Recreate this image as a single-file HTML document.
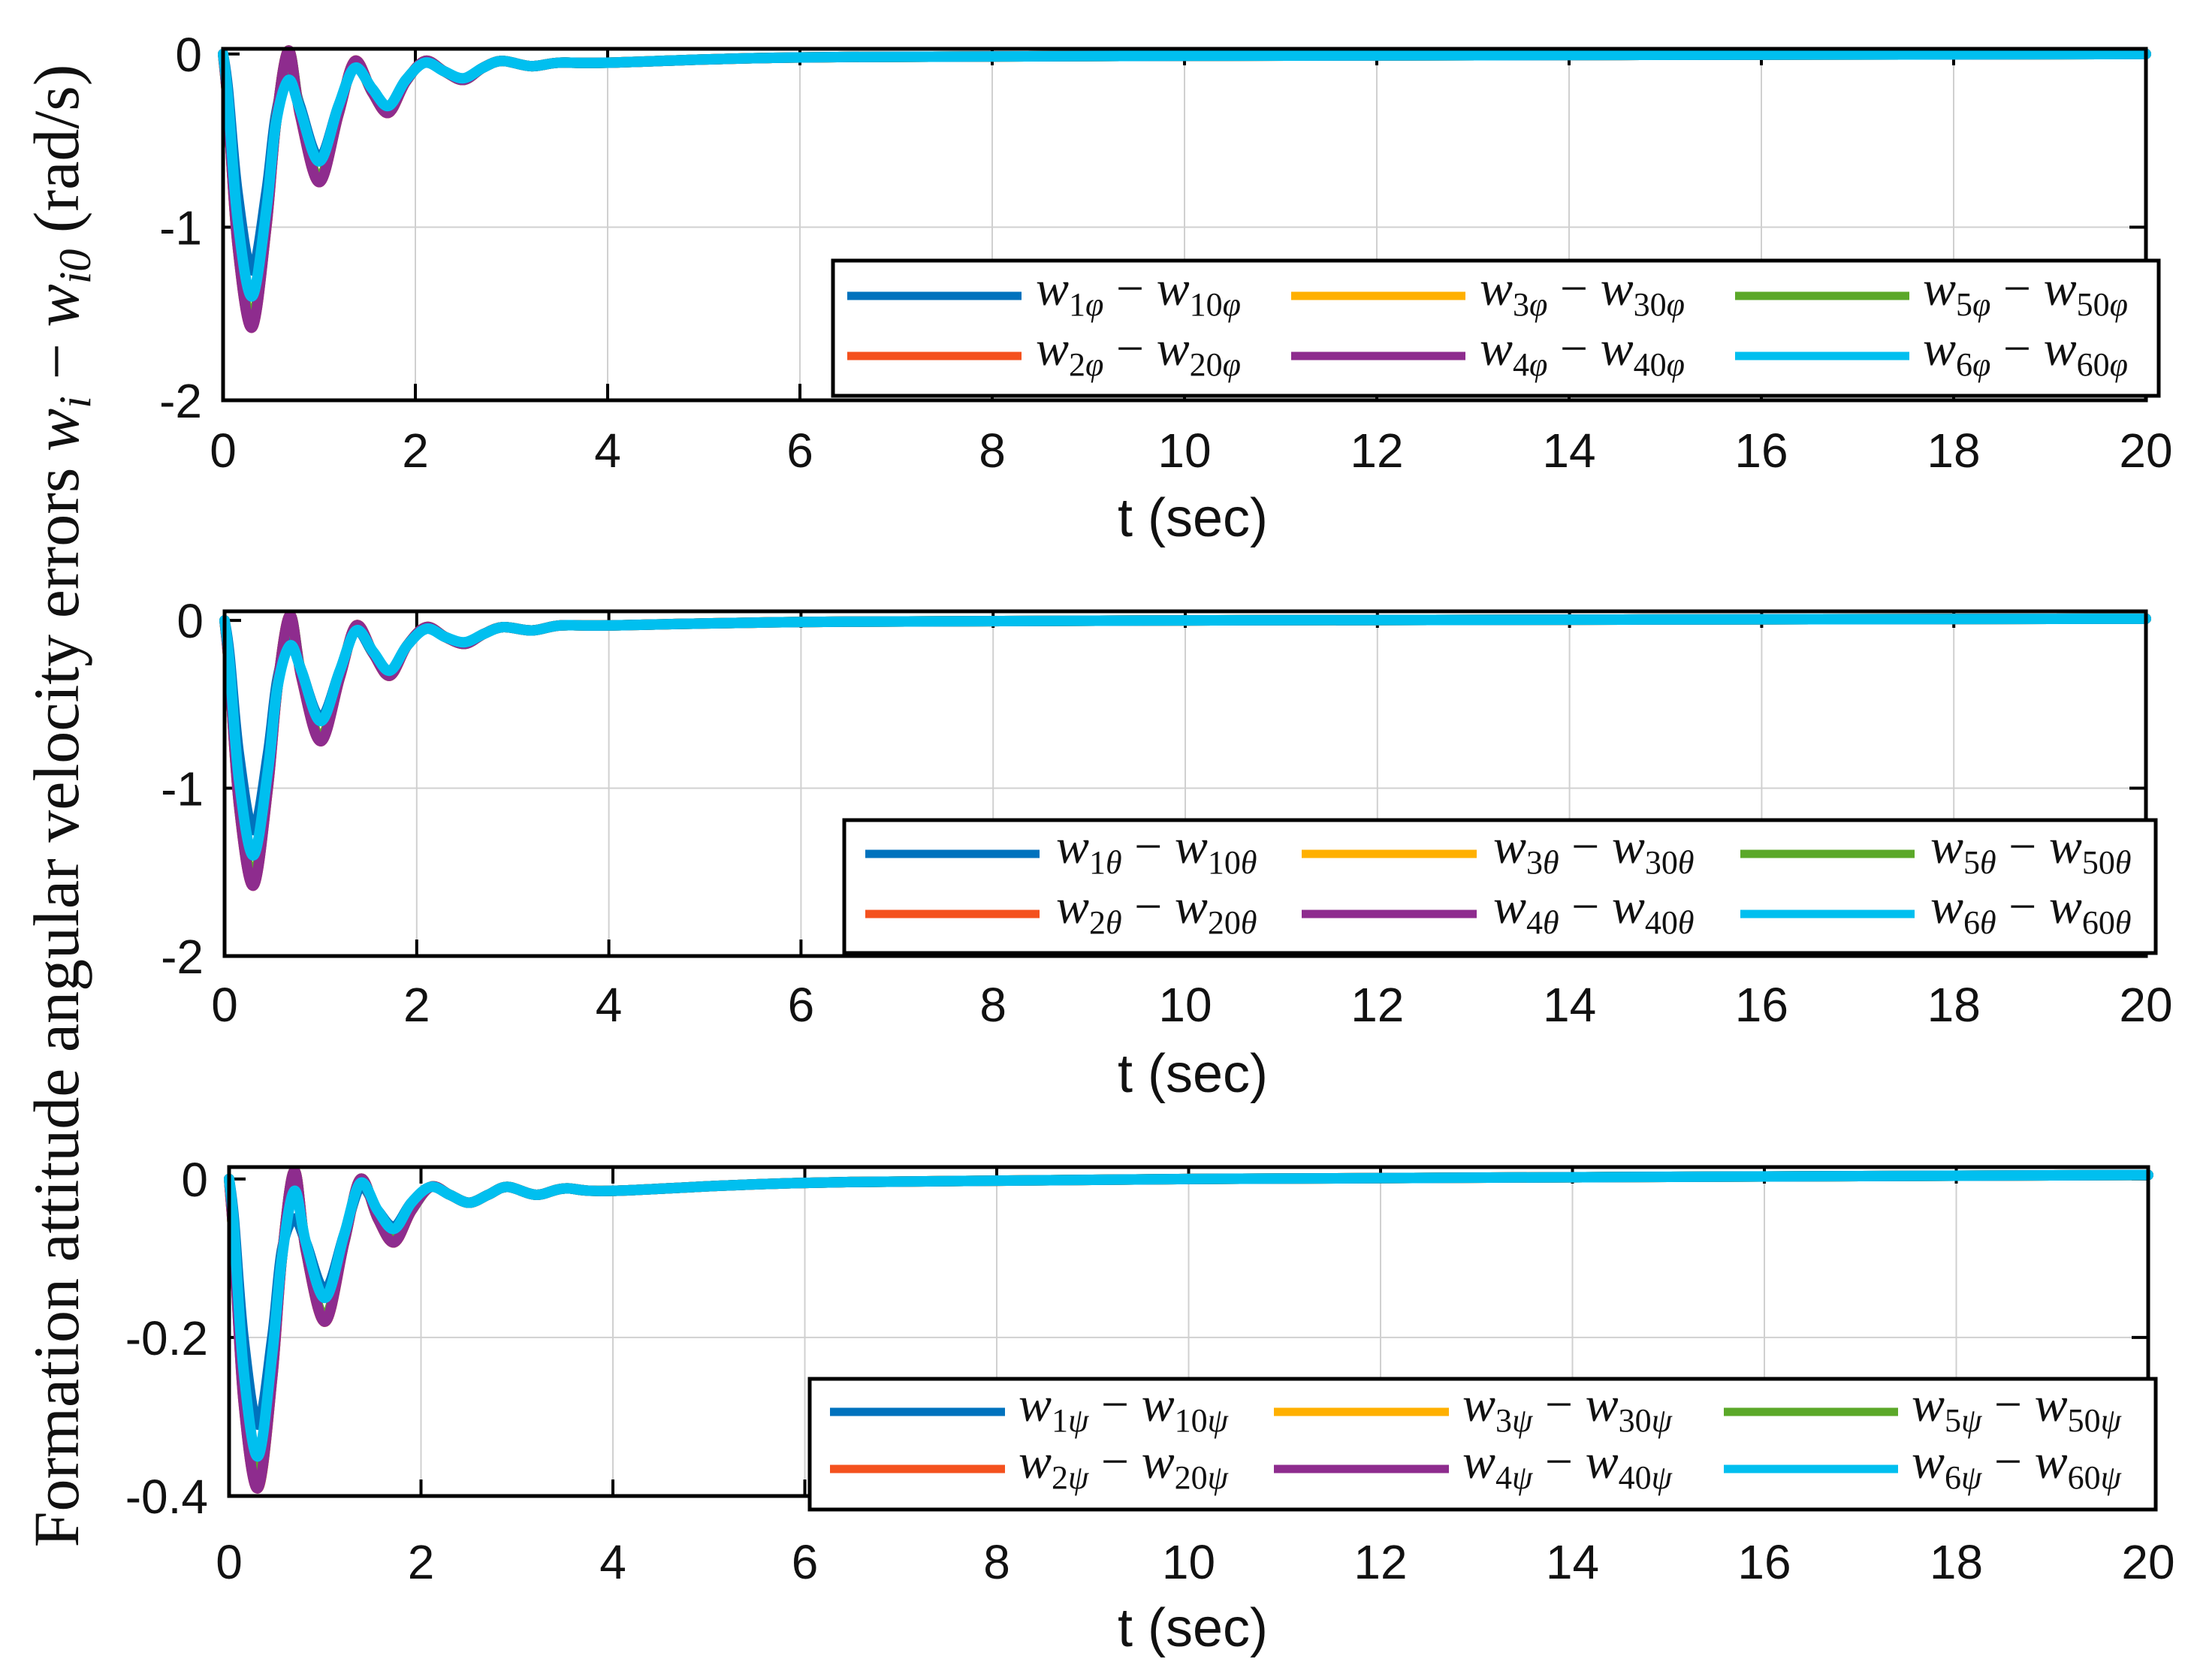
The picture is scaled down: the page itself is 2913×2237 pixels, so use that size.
<!DOCTYPE html>
<html><head><meta charset="utf-8"><style>
html,body{margin:0;padding:0;background:#fff;}
svg{display:block;}
</style></head><body>
<svg id="chart" width="2913" height="2237" xmlns="http://www.w3.org/2000/svg">
<text transform="translate(104,1073) rotate(-90)" text-anchor="middle" font-family="Liberation Serif, serif" font-size="86" fill="#111">Formation attitude angular velocity errors <tspan font-style="italic">w</tspan><tspan font-style="italic" font-size="60" dy="16">i</tspan><tspan dy="-16"> − </tspan><tspan font-style="italic">w</tspan><tspan font-style="italic" font-size="60" dy="16">i0</tspan><tspan dy="-16">  (rad/s)</tspan></text>
</svg>
<script>
// shared time samples (sec)
const times = [0,0.05,0.15,0.3,0.45,0.55,0.68,0.8,1.0,1.2,1.37,1.55,1.72,1.9,2.1,2.3,2.5,2.7,2.9,3.2,3.5,4,6,10,20];
const xTicks = [0,2,4,6,8,10,12,14,16,18,20];
const seriesColors = ['#0072BD','#F4511E','#FFB000','#8E2C8E','#5BA829','#00BFEF'];
const drawOrder = [0,1,2,4,3,5];
// panel 1 (phi)
const p1Blue   = [0,-0.2,-0.8,-1.25,-0.8,-0.35,-0.1,-0.3,-0.6,-0.3,-0.08,-0.2,-0.3,-0.15,-0.05,-0.1,-0.15,-0.08,-0.04,-0.07,-0.05,-0.05,-0.02,-0.01,0.0];
const p1Orange = [0,-0.3,-1.1,-1.58,-1.0,-0.4,0.02,-0.35,-0.74,-0.35,-0.04,-0.22,-0.34,-0.16,-0.04,-0.1,-0.15,-0.08,-0.04,-0.07,-0.05,-0.05,-0.02,-0.01,0.0];
const p1Yellow = [0,-0.3,-1.1,-1.56,-1.0,-0.4,0.02,-0.35,-0.73,-0.35,-0.04,-0.22,-0.34,-0.16,-0.04,-0.1,-0.15,-0.08,-0.04,-0.07,-0.05,-0.05,-0.02,-0.01,0.0];
const p1Purple = [0,-0.3,-1.1,-1.58,-1.0,-0.4,0.02,-0.35,-0.74,-0.35,-0.04,-0.22,-0.34,-0.16,-0.04,-0.1,-0.15,-0.08,-0.04,-0.07,-0.05,-0.05,-0.02,-0.01,0.0];
const p1Green  = [0,-0.3,-1.08,-1.54,-0.98,-0.4,0.02,-0.34,-0.72,-0.34,-0.05,-0.22,-0.33,-0.16,-0.04,-0.1,-0.15,-0.08,-0.04,-0.07,-0.05,-0.05,-0.02,-0.01,0.0];
const p1Cyan   = [0,-0.25,-0.95,-1.4,-0.9,-0.4,-0.15,-0.32,-0.62,-0.3,-0.08,-0.2,-0.3,-0.15,-0.05,-0.1,-0.14,-0.08,-0.04,-0.07,-0.05,-0.05,-0.02,-0.01,0.0];
// panel 2 (theta)
const p2Blue   = [0,-0.2,-0.8,-1.25,-0.8,-0.35,-0.12,-0.3,-0.58,-0.3,-0.06,-0.2,-0.3,-0.15,-0.05,-0.1,-0.14,-0.08,-0.04,-0.06,-0.03,-0.03,-0.01,0.0,0.01];
const p2Orange = [0,-0.3,-1.1,-1.58,-1.0,-0.4,0.03,-0.34,-0.72,-0.34,-0.03,-0.2,-0.33,-0.15,-0.04,-0.1,-0.14,-0.08,-0.04,-0.06,-0.03,-0.03,-0.01,0.0,0.01];
const p2Yellow = [0,-0.3,-1.1,-1.56,-1.0,-0.4,0.03,-0.34,-0.71,-0.34,-0.03,-0.2,-0.33,-0.15,-0.04,-0.1,-0.14,-0.08,-0.04,-0.06,-0.03,-0.03,-0.01,0.0,0.01];
const p2Purple = [0,-0.3,-1.1,-1.58,-1.0,-0.4,0.03,-0.34,-0.72,-0.34,-0.03,-0.2,-0.33,-0.15,-0.04,-0.1,-0.14,-0.08,-0.04,-0.06,-0.03,-0.03,-0.01,0.0,0.01];
const p2Green  = [0,-0.3,-1.08,-1.54,-0.98,-0.4,0.03,-0.33,-0.7,-0.33,-0.04,-0.2,-0.32,-0.15,-0.04,-0.1,-0.14,-0.08,-0.04,-0.06,-0.03,-0.03,-0.01,0.0,0.01];
const p2Cyan   = [0,-0.25,-0.95,-1.4,-0.9,-0.4,-0.15,-0.3,-0.6,-0.3,-0.06,-0.19,-0.3,-0.15,-0.05,-0.1,-0.13,-0.08,-0.04,-0.06,-0.03,-0.03,-0.01,0.0,0.01];
// panel 3 (psi)
const p3Blue   = [0,-0.05,-0.2,-0.31,-0.2,-0.09,-0.05,-0.08,-0.14,-0.07,-0.01,-0.04,-0.06,-0.03,-0.01,-0.02,-0.03,-0.02,-0.01,-0.02,-0.012,-0.015,-0.005,0.0,0.005];
const p3Orange = [0,-0.08,-0.28,-0.39,-0.25,-0.1,0.01,-0.09,-0.18,-0.08,0.0,-0.05,-0.08,-0.04,-0.01,-0.02,-0.03,-0.02,-0.01,-0.02,-0.012,-0.015,-0.005,0.0,0.005];
const p3Yellow = [0,-0.08,-0.27,-0.39,-0.25,-0.1,0.01,-0.09,-0.18,-0.08,0.0,-0.05,-0.08,-0.04,-0.01,-0.02,-0.03,-0.02,-0.01,-0.02,-0.012,-0.015,-0.005,0.0,0.005];
const p3Purple = [0,-0.08,-0.28,-0.39,-0.25,-0.1,0.01,-0.09,-0.18,-0.08,0.0,-0.05,-0.08,-0.04,-0.01,-0.02,-0.03,-0.02,-0.01,-0.02,-0.012,-0.015,-0.005,0.0,0.005];
const p3Green  = [0,-0.08,-0.27,-0.38,-0.24,-0.1,0.01,-0.09,-0.175,-0.08,0.0,-0.05,-0.075,-0.04,-0.01,-0.02,-0.03,-0.02,-0.01,-0.02,-0.012,-0.015,-0.005,0.0,0.005];
const p3Cyan   = [0,-0.06,-0.24,-0.35,-0.22,-0.1,-0.015,-0.08,-0.15,-0.07,-0.005,-0.04,-0.063,-0.03,-0.01,-0.02,-0.03,-0.02,-0.01,-0.02,-0.012,-0.015,-0.005,0.0,0.005];

const p1YTicks = [0,-1,-2];
const p2YTicks = [0,-1,-2];
const p3YTicks = [0,-0.2,-0.4];
const p1YLabels = ['0','-1','-2'];
const p2YLabels = ['0','-1','-2'];
const p3YLabels = ['0','-0.2','-0.4'];

const NS='http://www.w3.org/2000/svg';
const svg=document.getElementById('chart');
function mk(tag,attrs,parent){const e=document.createElementNS(NS,tag);for(const k in attrs)e.setAttribute(k,attrs[k]);(parent||svg).appendChild(e);return e;}

const panels=[
 {key:'phi',sym:'φ',series:[p1Blue,p1Orange,p1Yellow,p1Purple,p1Green,p1Cyan],yt:p1YTicks,yl:p1YLabels,x0:297,x1:2857,top:65,bot:533,ymin:-2,ymax:0.03,xlabY:622,titleY:714,leg:{x:1109,y:347,w:1765,h:180,r1:394,r2:474,cols:[[1128,1360,1379],[1719,1951,1970],[2310,2542,2560]]}},
 {key:'theta',sym:'θ',series:[p2Blue,p2Orange,p2Yellow,p2Purple,p2Green,p2Cyan],yt:p2YTicks,yl:p2YLabels,x0:299,x1:2857,top:814,bot:1273,ymin:-2,ymax:0.054,xlabY:1360,titleY:1454,leg:{x:1124,y:1092,w:1746,h:177,r1:1137,r2:1217,cols:[[1152,1384,1406],[1733,1966,1988],[2317,2549,2570]]}},
 {key:'psi',sym:'ψ',series:[p3Blue,p3Orange,p3Yellow,p3Purple,p3Green,p3Cyan],yt:p3YTicks,yl:p3YLabels,x0:305,x1:2860,top:1554,bot:1992,ymin:-0.4,ymax:0.015,xlabY:2102,titleY:2192,leg:{x:1078,y:1836,w:1792,h:174,r1:1880,r2:1956,cols:[[1105,1338,1356],[1696,1929,1947],[2295,2527,2545]]}}
];
const legIdx=[[0,2,4],[1,3,5]];

panels.forEach((p,pi)=>{
 const g=mk('g',{});
 
 
 const X=t=>p.x0+(t-0)/(20-0)*(p.x1-p.x0);
 const Y=v=>p.bot-(v-p.ymin)/(p.ymax-p.ymin)*(p.bot-p.top);
 xTicks.forEach(t=>{ if(t>0&&t<20){const l=mk('line',{x1:X(t),x2:X(t),y1:p.top,y2:p.bot,stroke:'#d0d0d0','stroke-width':2},g);
  
  
  mk('line',{x1:X(t),x2:X(t),y1:p.bot,y2:p.bot-22,stroke:'#000','stroke-width':4},g);
  mk('line',{x1:X(t),x2:X(t),y1:p.top,y2:p.top+22,stroke:'#000','stroke-width':4},g);}
 });
 p.yt.forEach((v,i)=>{ if(i>0&&i<p.yt.length-1){const l=mk('line',{x1:p.x0,x2:p.x1,y1:Y(v),y2:Y(v),stroke:'#d0d0d0','stroke-width':2},g);
  
  }
  mk('line',{x1:p.x0,x2:p.x0+22,y1:Y(v),y2:Y(v),stroke:'#000','stroke-width':4},g);
  mk('line',{x1:p.x1,x2:p.x1-22,y1:Y(v),y2:Y(v),stroke:'#000','stroke-width':4},g);
  const tx=mk('text',{x:p.x0-28,y:Y(v)+23,'text-anchor':'end','font-family':'Liberation Sans, sans-serif','font-size':64,fill:'#111'},g);
  tx.textContent=p.yl[i];
  
  
 });
 xTicks.forEach(t=>{const tx=mk('text',{x:X(t),y:p.xlabY,'text-anchor':'middle','font-family':'Liberation Sans, sans-serif','font-size':64,fill:'#111'},g);
  tx.textContent=String(t);
  
  });
 const ttl=mk('text',{x:1588,y:p.titleY,'text-anchor':'middle','font-family':'Liberation Sans, sans-serif','font-size':72,fill:'#111'},g);
 ttl.textContent='t (sec)';
 
 
 drawOrder.forEach(si=>{
  const vals=p.series[si];
  const pts=times.map((t,i)=>[X(t),Y(vals[i])]);
  let d='M'+pts[0][0]+','+pts[0][1];
  for(let i=0;i<pts.length-1;i++){const p0=pts[Math.max(0,i-1)],p1=pts[i],p2=pts[i+1],p3=pts[Math.min(pts.length-1,i+2)];
   d+=' C'+(p1[0]+(p2[0]-p0[0])/6)+','+(p1[1]+(p2[1]-p0[1])/6)+' '+(p2[0]-(p3[0]-p1[0])/6)+','+(p2[1]-(p3[1]-p1[1])/6)+' '+p2[0]+','+p2[1];}
  const path=mk('path',{d:d,fill:'none',stroke:seriesColors[si],'stroke-width':14,'stroke-linejoin':'round','stroke-linecap':'round'},g);
  
  
 });
 const box=mk('rect',{x:p.x0,y:p.top,width:p.x1-p.x0,height:p.bot-p.top,fill:'none',stroke:'#000','stroke-width':5},g);
 
 
 const L=p.leg;
 const lg=mk('g',{},g);
 
 
 mk('rect',{x:L.x,y:L.y,width:L.w,height:L.h,fill:'#fff',stroke:'#000','stroke-width':5},lg);
 [L.r1,L.r2].forEach((ry,r)=>{
  L.cols.forEach((c,ci)=>{
   const si=legIdx[r][ci];
   const n=si+1;
   const e=mk('g',{},lg);
   
   
   mk('line',{x1:c[0],x2:c[1],y1:ry,y2:ry,stroke:seriesColors[si],'stroke-width':11},e);
   const tx=mk('text',{x:c[2],y:ry+12,'font-family':'Liberation Serif, serif','font-size':66,fill:'#111'},e);
   tx.innerHTML='<tspan font-style="italic">w</tspan><tspan font-size="44" dy="14">'+n+'</tspan><tspan font-size="44" font-style="italic">'+p.sym+'</tspan><tspan dy="-14"> − </tspan><tspan font-style="italic">w</tspan><tspan font-size="44" dy="14">'+n+'0</tspan><tspan font-size="44" font-style="italic">'+p.sym+'</tspan>';
  });
 });
});
</script>
</body></html>
